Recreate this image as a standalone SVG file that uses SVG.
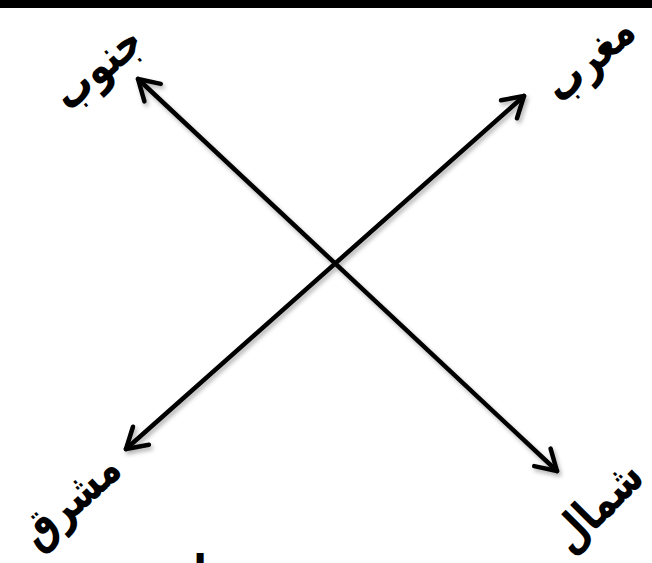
<svg xmlns="http://www.w3.org/2000/svg" width="652" height="563" viewBox="0 0 652 563">
<style>
.lbl{font-family:"DejaVu Sans",sans-serif;font-weight:bold;font-size:41px;fill:#000;text-anchor:middle;dominant-baseline:central}
.ln{stroke:#000;stroke-width:4.5;fill:none;stroke-linecap:round;stroke-linejoin:round}
</style>
<defs>
<filter id="sh" x="-10%" y="-10%" width="120%" height="120%">
<feDropShadow dx="2" dy="3" stdDeviation="2" flood-color="#000" flood-opacity="0.3"/>
</filter>
<marker id="ah" viewBox="-26 -16 30 32" refX="0" refY="0" markerWidth="30" markerHeight="32" markerUnits="userSpaceOnUse" orient="auto-start-reverse">
<polyline points="-20,-12 0,0 -20,12" fill="none" stroke="#000" stroke-width="4.5" stroke-linecap="round" stroke-linejoin="round"/>
</marker>
</defs>
<rect x="0" y="0" width="652" height="8" fill="#000"/>
<g id="connectors" filter="url(#sh)">
<line class="ln" x1="138" y1="79" x2="557" y2="471" marker-start="url(#ah)" marker-end="url(#ah)"/>
<line class="ln" x1="524" y1="96" x2="126" y2="449" marker-start="url(#ah)" marker-end="url(#ah)"/>
</g>
<g id="south"><text class="lbl" transform="translate(97,67) rotate(-41) scale(0.9,1.15)">جنوب</text></g>
<g id="west"><text class="lbl" transform="translate(589,58) rotate(-42) scale(0.9,1.15)">مغرب</text></g>
<g id="east"><text class="lbl" transform="translate(70,500) rotate(-42) scale(0.9,1.15)">مشرق</text></g>
<g id="north"><text class="lbl" transform="translate(597,506) rotate(-45) scale(0.9,1.15)">شمال</text></g>
<g id="fragment"><text x="200" y="583" style="font-family:'DejaVu Sans',sans-serif;font-weight:bold;font-size:40px;text-anchor:middle">ا</text></g>
</svg>
